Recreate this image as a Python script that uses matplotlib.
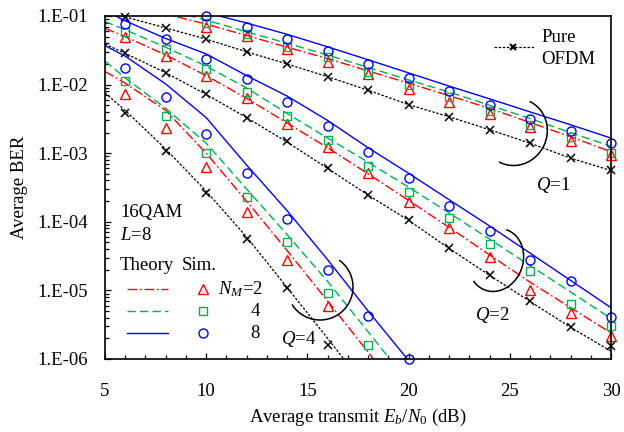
import numpy as np
import matplotlib
matplotlib.use('Agg')
import matplotlib.pyplot as plt

plt.rcParams['font.family'] = ['Liberation Serif', 'DejaVu Serif']
plt.rcParams['mathtext.fontset'] = 'custom'
plt.rcParams['mathtext.rm'] = 'Liberation Serif'
plt.rcParams['mathtext.it'] = 'Liberation Serif:italic'

nan = np.nan
# ---------------- data ----------------
snr_sim = [6, 8, 10, 12, 14, 16, 18, 20, 22, 24, 26, 28, 30]
snr_th = [5, 6, 8, 10, 12, 14, 16, 18, 20, 22, 24, 26, 28, 30]

# Q = 1 simulation
q1_sim_n2 = [nan, nan, 0.070, 0.051, 0.033, 0.021, 0.0143, 0.0085, 0.0056, 0.0037, 0.0024, 0.0015, 0.00093]
q1_sim_n4 = [nan, nan, 0.080, 0.055, 0.035, 0.025, 0.0155, 0.0100, 0.0065, 0.0041, 0.0026, 0.0017, 0.0010]
q1_sim_n8 = [nan, nan, 0.100, 0.068, 0.046, 0.031, 0.0200, 0.0126, 0.0080, 0.0051, 0.0032, 0.0021, 0.0014]
q1_sim_ofdm = [0.096, 0.067, 0.046, 0.030, 0.020, 0.013, 0.0083, 0.0050, 0.0034, 0.0022, 0.0014, 0.00084, 0.00057]
# Q = 1 theory
q1_th_n2 = [0.19, 0.155, 0.107, 0.076, 0.052, 0.035, 0.024, 0.0158, 0.0105, 0.0069, 0.0045, 0.0028, 0.00174, 0.00105]
q1_th_n4 = [0.22, 0.18, 0.126, 0.087, 0.059, 0.040, 0.027, 0.0178, 0.0117, 0.0078, 0.0050, 0.0032, 0.0020, 0.00126]
q1_th_n8 = [0.30, 0.25, 0.17, 0.112, 0.079, 0.054, 0.0355, 0.023, 0.0148, 0.0095, 0.0062, 0.0040, 0.0026, 0.00166]
q1_th_ofdm = [0.115, 0.097, 0.067, 0.046, 0.030, 0.020, 0.013, 0.0083, 0.0051, 0.0034, 0.0022, 0.0014, 0.00085, 0.00056]

# Q = 2 simulation
q2_sim_n2 = [0.049, 0.026, 0.0133, 0.0063, 0.0027, 0.00124, 5.1e-4, 1.95e-4, 8.0e-5, 3.1e-5, 1.0e-5, 4.7e-6, 2.2e-6]
q2_sim_n4 = [0.058, 0.033, 0.0167, 0.0079, 0.0035, 0.00155, 6.6e-4, 2.75e-4, 1.12e-4, 4.7e-5, 1.94e-5, 6.3e-6, 3.0e-6]
q2_sim_n8 = [0.076, 0.046, 0.024, 0.012, 0.0055, 0.0025, 0.00103, 4.4e-4, 1.7e-4, 7.4e-5, 2.8e-5, 1.37e-5, 4.1e-6]
q2_sim_ofdm = [0.0285, 0.0149, 0.0072, 0.0033, 0.0015, 6.0e-4, 2.45e-4, 1.05e-4, 4.1e-5, 1.66e-5, 6.9e-6, 2.96e-6, 1.56e-6]
# Q = 2 theory
q2_th_n2 = [0.066, 0.050, 0.027, 0.0135, 0.0063, 0.00275, 0.0012, 5.0e-4, 2.05e-4, 8.3e-5, 3.3e-5, 1.32e-5, 5.6e-6, 2.4e-6]
q2_th_n4 = [0.083, 0.063, 0.035, 0.0186, 0.0089, 0.0038, 0.00166, 7.4e-4, 3.2e-4, 1.35e-4, 5.6e-5, 2.3e-5, 9.5e-6, 3.9e-6]
q2_th_n8 = [0.12, 0.085, 0.047, 0.028, 0.0135, 0.0068, 0.0030, 0.0012, 5.1e-4, 2.1e-4, 8.7e-5, 3.5e-5, 1.4e-5, 5.6e-6]
q2_th_ofdm = [0.039, 0.0285, 0.0149, 0.0072, 0.0033, 0.00145, 6.0e-4, 2.45e-4, 1.05e-4, 4.1e-5, 1.66e-5, 6.9e-6, 2.9e-6, 1.3e-6]

# Q = 4 simulation
q4_sim_n2 = [0.0074, 0.0023, 6.2e-4, 1.4e-4, 2.8e-5, 6.0e-6, nan, nan, nan, nan, nan, nan, nan]
q4_sim_n4 = [0.0112, 0.0035, 0.00102, 2.3e-4, 5.0e-5, 9.2e-6, 1.6e-6, nan, nan, nan, nan, nan, nan]
q4_sim_n8 = [0.0174, 0.0065, 0.0019, 5.1e-4, 1.1e-4, 2.0e-5, 4.2e-6, 1.0e-6, nan, nan, nan, nan, nan]
q4_sim_ofdm = [0.0038, 0.00107, 2.6e-4, 5.7e-5, 1.1e-5, 1.6e-6, nan, nan, nan, nan, nan, nan, nan]
# Q = 4 theory
q4_th_n2 = [0.0155, 0.0105, 0.0042, 0.0010, 2.0e-4, 3.8e-5, 7.0e-6, 1.26e-6, 2.0e-7, nan, nan, nan, nan, nan]
q4_th_n4 = [0.022, 0.0125, 0.0045, 0.0014, 3.0e-4, 6.5e-5, 1.35e-5, 2.5e-6, 4.5e-7, nan, nan, nan, nan, nan]
q4_th_n8 = [0.037, 0.026, 0.0102, 0.0033, 6.7e-4, 1.45e-4, 2.8e-5, 5.0e-6, 9.5e-7, 1.5e-7, nan, nan, nan, nan]
q4_th_ofdm = [0.0076, 0.0042, 0.00115, 2.8e-4, 6.0e-5, 1.1e-5, 2.0e-6, 3.5e-7, nan, nan, nan, nan, nan, nan]

ytick_vals = [1e-6, 1e-5, 1e-4, 1e-3, 1e-2, 1e-1]
ytick_labels = ['1.E-06', '1.E-05', '1.E-04', '1.E-03', '1.E-02', '1.E-01']
xtick_vals = [5, 10, 15, 20, 25, 30]

# ---------------- styles ----------------
RED = '#ff0000'
GREEN = '#00b050'
BLUE = '#0000ff'
BLK = '#000000'
ls_red = (0, (7, 2, 1.2, 2))
ls_green = (0, (6, 3))
ls_blue = '-'
ls_blk = (0, (2, 1.3))
FS = 13.5
MS_TRI, MS_SQ, MS_CIR, MS_X = 7, 6, 6.5, 6.2

fig = plt.figure(figsize=(6.24, 4.32), dpi=100)
ax = fig.add_axes([105 / 624, 1 - 359 / 432, 506 / 624, 343 / 432])
ax.set_yscale('log')
ax.set_xlim(5, 30)
ax.set_ylim(1e-6, 1e-1)

groups = [
    (q1_th_n2, q1_th_n4, q1_th_n8, q1_th_ofdm, q1_sim_n2, q1_sim_n4, q1_sim_n8, q1_sim_ofdm),
    (q2_th_n2, q2_th_n4, q2_th_n8, q2_th_ofdm, q2_sim_n2, q2_sim_n4, q2_sim_n8, q2_sim_ofdm),
    (q4_th_n2, q4_th_n4, q4_th_n8, q4_th_ofdm, q4_sim_n2, q4_sim_n4, q4_sim_n8, q4_sim_ofdm),
]
lw = 1.0
for th2, th4, th8, tho, s2, s4, s8, so in groups:
    ax.plot(snr_th, tho, color=BLK, ls=ls_blk, lw=0.9)
    ax.plot(snr_th, th2, color=RED, ls=ls_red, lw=lw)
    ax.plot(snr_th, th4, color=GREEN, ls=ls_green, lw=lw)
    ax.plot(snr_th, th8, color=BLUE, ls=ls_blue, lw=lw)
    ax.plot(snr_sim, so, ls='none', marker='x', ms=MS_X, mew=1.1, color=BLK, clip_on=False)
    ax.plot(snr_sim, s2, ls='none', marker='^', ms=MS_TRI, mew=1.0, mfc='none', mec=RED, clip_on=False)
    ax.plot(snr_sim, s4, ls='none', marker='s', ms=MS_SQ, mew=1.0, mfc='none', mec=GREEN, clip_on=False)
    ax.plot(snr_sim, s8, ls='none', marker='o', ms=MS_CIR, mew=1.0, mfc='none', mec=BLUE, clip_on=False)

# ticks
ax.set_yticks(ytick_vals)
ax.set_yticklabels(ytick_labels)
ax.set_xticks(xtick_vals)
ax.set_xticks(np.arange(5, 31, 1), minor=True)
ax.yaxis.set_minor_locator(matplotlib.ticker.LogLocator(base=10, subs=np.arange(2, 10)))
ax.yaxis.set_minor_formatter(matplotlib.ticker.NullFormatter())
ax.tick_params(axis='both', which='both', direction='in', labelsize=FS, width=0.9)
ax.tick_params(axis='both', which='major', length=4)
ax.tick_params(axis='both', which='minor', length=3)
ax.tick_params(axis='x', which='both', pad=17)
ax.tick_params(axis='y', which='both', pad=12)
for s in ax.spines.values():
    s.set_linewidth(1.2)

ax.set_xlabel(r'Average transmit $E_b$/$N_0$ (dB)', fontsize=FS, labelpad=5)
ax.set_ylabel('Average BER', fontsize=FS, labelpad=7)

# ---------------- legend block ----------------
AW, AH = 506.0, 343.0
def axf(px, py):
    return ((px - 105) / AW, (359 - py) / AH)

tkw = dict(transform=ax.transAxes, fontsize=FS, va='center')
ax.text(*axf(120, 213), '16QAM', ha='left', **tkw)
ax.text(*axf(120, 236), r'$L$=8', ha='left', **tkw)
ax.text(*axf(120, 266), 'Theory', ha='left', **tkw)
ax.text(*axf(182, 266), 'Sim.', ha='left', **tkw)
rows = [(289, RED, ls_red, '^', MS_TRI, r'$N_M$=2', 218, 'left'),
        (311, GREEN, ls_green, 's', MS_SQ, '4', 255, 'center'),
        (333, BLUE, ls_blue, 'o', MS_CIR, '8', 255, 'center')]
for py, col, ls, mk, ms, lab, tx, ha in rows:
    x0, y0 = axf(127, py)
    x1, _ = axf(168, py)
    ax.plot([x0, x1], [y0, y0], color=col, ls=ls, lw=lw, transform=ax.transAxes)
    mx, _ = axf(203, py)
    ax.plot([mx], [y0], marker=mk, ms=ms, mfc='none', mec=col, mew=1.0, ls='none', transform=ax.transAxes)
    ax.text(*axf(tx, py), lab, ha=ha, **tkw)

# Pure OFDM legend
x0, y0 = axf(494, 47)
x1, _ = axf(534, 47)
ax.plot([x0, x1], [y0, y0], color=BLK, ls=ls_blk, lw=0.9, transform=ax.transAxes)
mx, _ = axf(513, 47)
ax.plot([mx], [y0], marker='x', ms=5, mew=1.5, color=BLK, transform=ax.transAxes)
ax.text(*axf(541, 37), 'Pure', ha='left', **tkw)
ax.text(*axf(541, 59), 'OFDM', ha='left', **tkw)

# ---------------- Q annotations (arcs) ----------------
def arc(cx, cy, a, b, ux, uy, t0, t1):
    t = np.radians(np.linspace(t0, t1, 100))
    vx, vy = -uy, ux
    px = cx + a * np.cos(t) * ux + b * np.sin(t) * vx
    py = cy + a * np.cos(t) * uy + b * np.sin(t) * vy
    xs, ys = axf(px, py)
    ax.plot(xs, ys, color=BLK, lw=1.1, transform=ax.transAxes, clip_on=False)

arc(515, 132, 34, 32, 0.45, -0.89, 0, 180)
arc(496, 260, 32, 27, 0.34, -0.94, 0, 210)
arc(320, 287, 33, 33, 0.6, -0.8, 0, 200)

ax.text(*axf(536, 185), r'$Q$=1', ha='left', **tkw)
ax.text(*axf(475, 315), r'$Q$=2', ha='left', **tkw)
ax.text(*axf(281, 339), r'$Q$=4', ha='left', **tkw)

fig.savefig('out.png', dpi=100)
